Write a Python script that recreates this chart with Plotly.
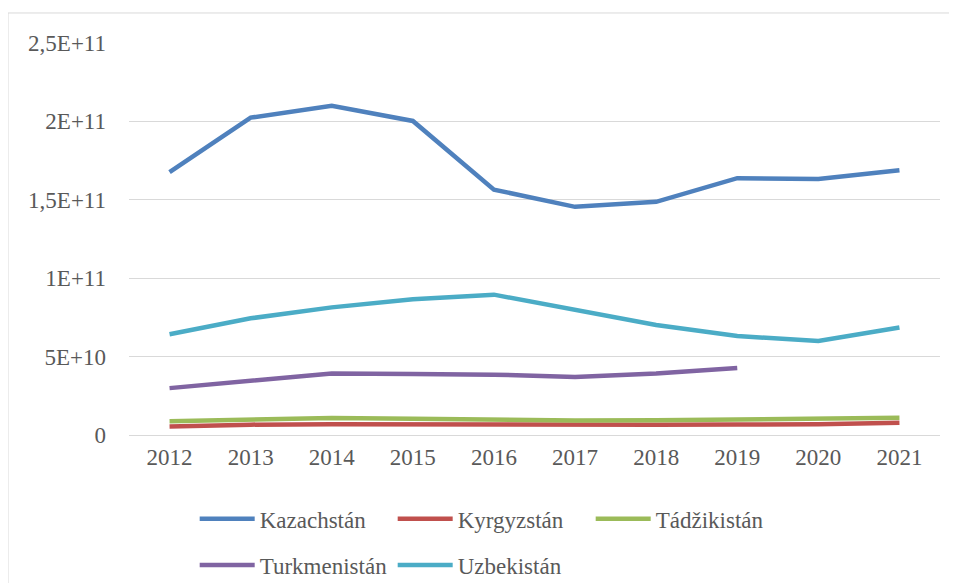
import plotly.graph_objects as go

years = ["2012", "2013", "2014", "2015", "2016", "2017", "2018", "2019", "2020", "2021"]

kazachstan = [1.676e11, 2.024e11, 2.099e11, 2.003e11, 1.565e11, 1.455e11, 1.487e11, 1.638e11, 1.632e11, 1.689e11]
kyrgyzstan = [5.4e9, 6.6e9, 6.9e9, 6.7e9, 6.5e9, 6.1e9, 6.5e9, 6.7e9, 6.8e9, 7.8e9]
tadzikistan = [8.8e9, 1.0e10, 1.08e10, 1.03e10, 9.7e9, 9.3e9, 9.4e9, 9.9e9, 1.0e10, 1.1e10]
turkmenistan = [2.99e10, 3.49e10, 3.92e10, 3.89e10, 3.85e10, 3.70e10, 3.92e10, 4.28e10, None, None]
uzbekistan = [6.43e10, 7.44e10, 8.14e10, 8.66e10, 8.95e10, 7.97e10, 7.01e10, 6.31e10, 6.0e10, 6.86e10]

y_tickvals = [0, 5e10, 1e11, 1.5e11, 2e11, 2.5e11]
y_ticktext = ["0", "5E+10", "1E+11", "1,5E+11", "2E+11", "2,5E+11"]

series = [
    ("Kazachstán", kazachstan, "#4F81BD", "legend"),
    ("Kyrgyzstán", kyrgyzstan, "#C0504D", "legend"),
    ("Tádžikistán", tadzikistan, "#9BBB59", "legend"),
    ("Turkmenistán", turkmenistan, "#8064A2", "legend2"),
    ("Uzbekistán", uzbekistan, "#4BACC6", "legend2"),
]

FONT = "Liberation Serif"
TXT = "#595959"

fig = go.Figure()
for name, vals, color, lg in series:
    fig.add_trace(go.Scatter(
        x=years, y=vals, name=name, mode="lines",
        line=dict(color=color, width=4.5, shape="linear"),
        connectgaps=False, legend=lg,
    ))

legend_common = dict(
    orientation="h", xanchor="left", yanchor="middle",
    font=dict(family=FONT, size=23, color=TXT),
    itemwidth=55,
    entrywidth=128, entrywidthmode="pixels",
    bgcolor="rgba(0,0,0,0)", traceorder="normal",
)

fig.update_layout(
    width=949, height=575,
    margin=dict(l=121, r=17, t=35, b=148, autoexpand=False),
    paper_bgcolor="white", plot_bgcolor="white",
    font=dict(family=FONT, size=23, color=TXT),
    showlegend=True,
    legend=dict(x=0.081, y=-0.214, **legend_common),
    legend2=dict(x=0.081, y=-0.332, **legend_common),
    xaxis=dict(
        type="category", range=[-0.5, 9.5],
        showgrid=False, showline=True, linecolor="#D9D9D9", linewidth=1,
        ticks="", tickfont=dict(family=FONT, size=23, color=TXT),
        ticklabelstandoff=1,
        zeroline=False, fixedrange=True,
    ),
    yaxis=dict(
        range=[0, 2.5e11], tickvals=y_tickvals, ticktext=y_ticktext,
        showgrid=True, gridcolor="#D9D9D9", gridwidth=1,
        showline=False, zeroline=False, ticks="",
        tickfont=dict(family=FONT, size=23, color=TXT),
        ticklabelstandoff=22, fixedrange=True,
    ),
    shapes=[dict(
        type="rect", xref="paper", yref="paper",
        x0=-0.1492, x1=1.03, y0=-0.42, y1=1.0766,
        line=dict(color="#D9D9D9", width=1), fillcolor="rgba(0,0,0,0)",
        layer="below",
    )],
)

fig.write_html("out.html")
